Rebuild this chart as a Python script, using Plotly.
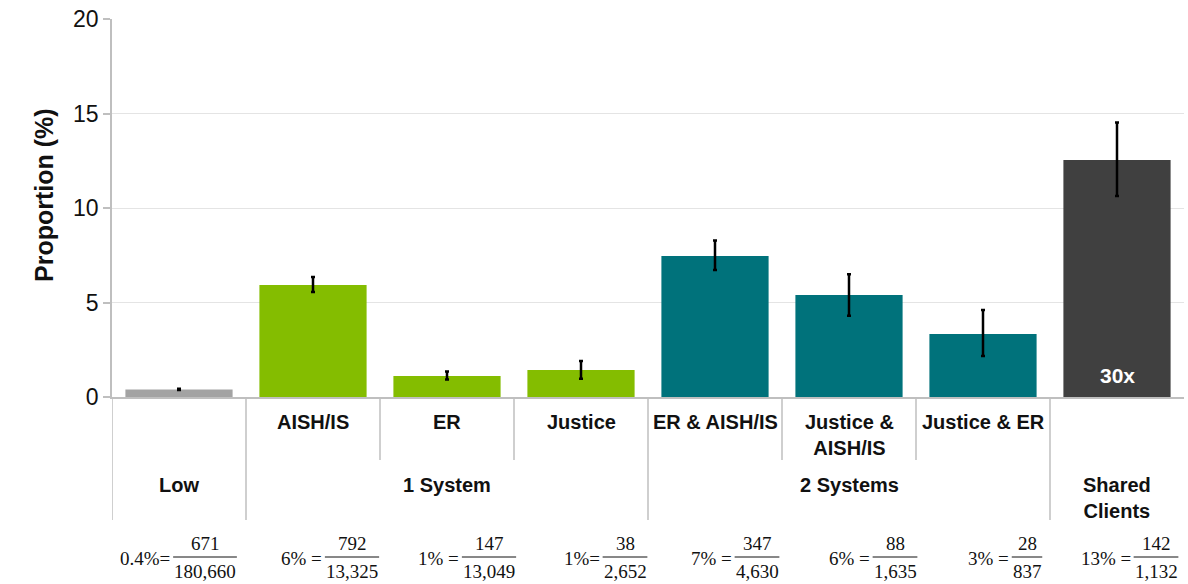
import plotly.graph_objects as go

# ---------------- data ----------------
categories = ["Low", "AISH/IS", "ER", "Justice", "ER & AISH/IS",
              "Justice & AISH/IS", "Justice & ER", "Shared Clients"]
proportion = [0.40, 5.93, 1.11, 1.43, 7.46, 5.40, 3.33, 12.54]
ci_low = [0.37, 5.55, 0.92, 0.97, 6.72, 4.30, 2.17, 10.63]
ci_high = [0.43, 6.35, 1.35, 1.90, 8.28, 6.50, 4.60, 14.53]
bar_colors = ["#a3a3a3", "#84bd00", "#84bd00", "#84bd00",
              "#00727b", "#00727b", "#00727b", "#404040"]

row1_labels = ["", "AISH/IS", "ER", "Justice", "ER & AISH/IS",
               "Justice &<br>AISH/IS", "Justice & ER", ""]
group_labels = ["Low", "1 System", "2 Systems", "Shared<br>Clients"]
group_spans = [(0, 0), (1, 3), (4, 6), (7, 7)]

pct_labels = ["0.4%=", "6% =", "1% =", "1%=", "7% =", "6% =", "3% =", "13% ="]
numerators = [671, 792, 147, 38, 347, 88, 28, 142]
denominators = [180660, 13325, 13049, 2652, 4630, 1635, 837, 1132]
bar_note = "30x"

y_ticks = [0, 5, 10, 15, 20]

# ---------------- layout constants ----------------
W, H = 1188, 584
ML, MR, MT, MB = 112, 4, 19, 187
plot_h = H - MT - MB


def py(p):
    """pixel row -> paper y"""
    return (H - MB - p) / plot_h


frac_offsets = [26, 39, 42, 44, 42, 46, 44, 39]  # px shift of fraction centre from slot centre
SANS = "Liberation Sans, Arial, sans-serif"
SERIF = "Liberation Serif, Times New Roman, serif"
LINE_C = "#bfbfbf"

xs = list(range(len(categories)))

fig = go.Figure()
fig.add_trace(go.Bar(
    x=xs, y=proportion,
    marker=dict(color=bar_colors, line=dict(width=0)),
    width=0.8,
    error_y=dict(type="data", symmetric=False,
                 array=[h - v for h, v in zip(ci_high, proportion)],
                 arrayminus=[v - l for l, v in zip(ci_low, proportion)],
                 color="#000000", thickness=2.5, width=2),
    hoverinfo="skip",
))

annotations = []
shapes = []

# row 1 labels
for i, lab in enumerate(row1_labels):
    if lab:
        annotations.append(dict(x=i, y=py(409), xref="x", yref="paper", text=f"<b>{lab}</b>",
                                showarrow=False, yanchor="top", xanchor="center",
                                font=dict(family=SANS, size=20, color="#111111")))
# group labels
for lab, (a, b) in zip(group_labels, group_spans):
    annotations.append(dict(x=(a + b) / 2, y=py(472), xref="x", yref="paper", text=f"<b>{lab}</b>",
                            showarrow=False, yanchor="top", xanchor="center",
                            font=dict(family=SANS, size=20, color="#111111")))

# divider lines
for i in range(len(categories)):
    full = i in [a for a, b in group_spans]
    shapes.append(dict(type="line", xref="x", yref="paper", x0=i - 0.5, x1=i - 0.5,
                       y0=0, y1=py(520) if full else py(460),
                       line=dict(color=LINE_C, width=1.5)))


# fractions
def digit_w(s):
    w = 0
    for ch in s:
        w += 4.75 if ch in ",." else 9.5
    return w


NUM_Y, BAR_Y, DEN_Y = 543, 557, 571
for i in xs:
    num_s = f"{numerators[i]:,}"
    den_s = f"{denominators[i]:,}"
    fw = max(digit_w(num_s), digit_w(den_s)) + 2
    off = frac_offsets[i]
    annotations.append(dict(x=i, y=py(NUM_Y), xref="x", yref="paper", text=num_s, xshift=off,
                            showarrow=False, xanchor="center", yanchor="middle",
                            font=dict(family=SERIF, size=19, color="#111111")))
    annotations.append(dict(x=i, y=py(DEN_Y), xref="x", yref="paper", text=den_s, xshift=off,
                            showarrow=False, xanchor="center", yanchor="middle",
                            font=dict(family=SERIF, size=19, color="#111111")))
    annotations.append(dict(x=i, y=py(BAR_Y + 1), xref="x", yref="paper", text=pct_labels[i],
                            xshift=off - fw / 2 - 1, showarrow=False, xanchor="right", yanchor="middle",
                            font=dict(family=SERIF, size=19, color="#111111")))
    shapes.append(dict(type="line", xref="x", yref="paper", xsizemode="pixel", xanchor=i,
                       x0=off - fw / 2, x1=off + fw / 2, y0=py(BAR_Y), y1=py(BAR_Y),
                       line=dict(color="#111111", width=1)))

# note inside the last bar
annotations.append(dict(x=7, y=1.16, xref="x", yref="y", text=f"<b>{bar_note}</b>",
                        showarrow=False, font=dict(family=SANS, size=21, color="#ffffff")))

# y title
annotations.append(dict(x=0, y=py(195), xref="paper", yref="paper", xshift=-84,
                        text="<b>Proportion (%)</b>", textangle=-90, showarrow=False,
                        font=dict(family=SANS, size=25, color="#111111")))

fig.update_layout(
    width=W, height=H, autosize=False,
    margin=dict(l=ML, r=MR, t=MT, b=MB),
    paper_bgcolor="white", plot_bgcolor="white",
    showlegend=False,
    annotations=annotations, shapes=shapes,
    xaxis=dict(range=[-0.5, 7.5], showticklabels=False, showgrid=False, zeroline=False,
               showline=True, linecolor=LINE_C, linewidth=1.5, ticks=""),
    yaxis=dict(range=[0, 20], tickvals=y_ticks, showgrid=True, gridcolor="#e4e4e4", gridwidth=1.2,
               zeroline=False, showline=True, linecolor=LINE_C, linewidth=1.5,
               ticks="outside", ticklen=7, tickcolor=LINE_C, tickwidth=1.5,
               tickfont=dict(family=SANS, size=23, color="#111111")),
)

fig.write_html("out.html")
